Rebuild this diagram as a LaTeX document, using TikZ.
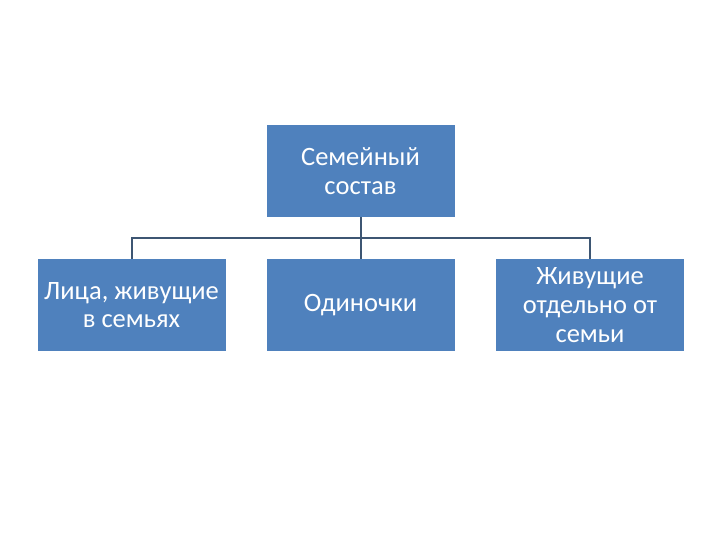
\documentclass[tikz,border=0pt]{standalone}
\usepackage{fontspec}
\setmainfont{Carlito}
\usetikzlibrary{positioning}

\definecolor{boxblue}{HTML}{4F81BD}
\definecolor{linkgray}{HTML}{3D5673}

\begin{document}
\begin{tikzpicture}[x=1pt, y=-1pt,
  unitbox/.style={rectangle, fill=boxblue, draw=none, align=center, text=white, font=\fontsize{26.5}{28.8}\selectfont, minimum width=188pt, minimum height=92pt, inner sep=1pt},
  link/.style={draw=linkgray, line width=2pt}
]

\useasboundingbox (0,0) rectangle (720,540);

\node[unitbox] (family) at (360.5, 171) {Семейный\\состав};

\node[unitbox] (infam) at (131.5, 305) {Лица, живущие\\в семьях};
\node[unitbox] (single) at (360.5, 305) {Одиночки};
\node[unitbox] (apart) at (590, 305) {Живущие\\отдельно от\\семьи};

\coordinate (bus) at (360.5, 238);

\draw[link] (family.south) -- (bus);
\draw[link] (infam.north) |- (bus) -| (apart.north);
\draw[link] (bus) -- (single.north);

\end{tikzpicture}
\end{document}
